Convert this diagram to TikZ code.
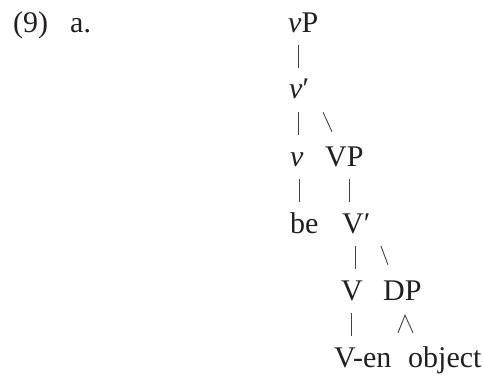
\documentclass[tikz,border=0pt]{standalone}
\usepackage{fontspec}
\setmainfont{Liberation Serif}
\usepackage{tikz}
\usepackage{xcolor}
\definecolor{treeink}{RGB}{35, 31, 32}
\tikzset{
    tnode/.style={inner sep=0pt, anchor=base west, text height=20pt, text depth=0pt, text=treeink},
    branch/.style={draw=treeink!85, line width=0.9pt, shorten <=13pt, shorten >=11pt},
    slash/.style={draw=treeink!85, line width=0.9pt}
}

\begin{document}
\begin{tikzpicture}[x=1pt, y=1pt, font=\fontsize{30}{36}\selectfont]
    \useasboundingbox (0,0) rectangle (483,376);
    % example label
    \node[tnode] (ex) at (13,344) {(9)};
    \node[tnode] (sub) at (70,344) {a.};
    % tree
    \node[tnode] (vP) at (288,344) {\textit{v}P};
    \node[tnode] (vbar) at (289,277) {\textit{v}′};
    \node[tnode] (v) at (290,210) {\textit{v}};
    \node[tnode] (VP) at (325,210) {VP};
    \node[tnode] (be) at (290,143) {be};
    \node[tnode] (Vbar) at (342,143) {V′};
    \node[tnode] (V) at (341,76) {V};
    \node[tnode] (DP) at (383,76) {DP};
    \node[tnode] (Ven) at (334,9) {V-en};
    \node[tnode] (obj) at (408,9) {object};

    \draw[branch] ([xshift=10pt]vP.south west) -- ([xshift=10pt]vP.south west |- vbar.north);
    \draw[branch] ([xshift=9pt]vbar.south west) -- ([xshift=9pt]vbar.south west |- v.north);
    \draw[slash] ([shift={(34pt,-13pt)}]vbar.south west) -- ([shift={(7pt,14pt)}]VP.north west);
    \draw[branch] ([xshift=9pt]v.south west) -- ([xshift=9pt]v.south west |- be.north);
    \draw[branch] ([xshift=24pt]VP.south west) -- ([xshift=24pt]VP.south west |- Vbar.north);
    \draw[branch] ([xshift=13pt]Vbar.south west) -- ([xshift=13pt]Vbar.south west |- V.north);
    \draw[slash] ([shift={(39pt,-13pt)}]Vbar.south west) -- ([shift={(5pt,15pt)}]DP.north west);
    \draw[branch] ([xshift=10pt]V.south west) -- ([xshift=10pt]V.south west |- Ven.north);
    \draw[slash] ([shift={(-10pt,14pt)}]obj.north west) -- ([shift={(22pt,-15pt)}]DP.south west)
        -- ([shift={(5pt,14pt)}]obj.north west);
\end{tikzpicture}
\end{document}
